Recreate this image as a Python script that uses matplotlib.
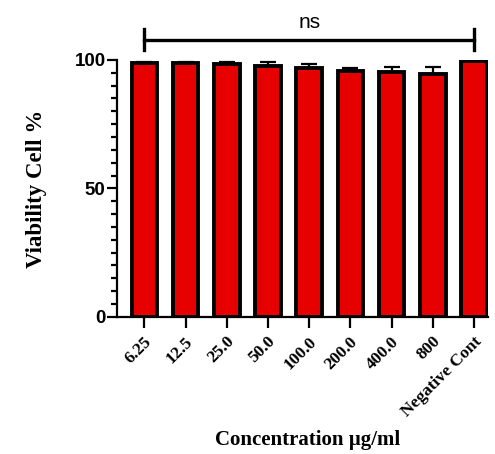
import matplotlib
matplotlib.use("Agg")
import matplotlib.pyplot as plt
import matplotlib.transforms as mtransforms
import numpy as np
from matplotlib.ticker import MultipleLocator

categories = ["6.25", "12.5", "25.0", "50.0", "100.0", "200.0", "400.0", "800", "Negative Cont"]
viability = [98.8, 98.8, 98.5, 97.6, 96.7, 95.6, 95.2, 94.7, 99.6]
errors = [0.3, 0.3, 0.8, 1.5, 1.8, 1.1, 2.0, 2.5, 0.0]

fig = plt.figure(figsize=(4.95, 4.54), dpi=100)
ax = fig.add_axes([0.236, 0.302, 0.75, 0.566])

x = np.arange(len(categories))
ax.bar(x, viability, width=0.62, color="#e60000", edgecolor="black", linewidth=2.8,
       zorder=2)
ax.errorbar(x, viability, yerr=[np.zeros(len(errors)), errors], fmt="none",
            ecolor="black", elinewidth=1.6, capsize=6, capthick=1.6, zorder=1)

ax.set_xlim(-0.667, 8.34)
ax.set_ylim(0, 100)
ax.spines["top"].set_visible(False)
ax.spines["right"].set_visible(False)
for s in ["left", "bottom"]:
    ax.spines[s].set_linewidth(1.6)

ax.yaxis.set_major_locator(MultipleLocator(50))
ax.yaxis.set_minor_locator(MultipleLocator(5))
ax.tick_params(axis="y", which="major", length=7, width=1.6, labelsize=13.5, pad=1)
ax.tick_params(axis="y", which="minor", length=4, width=1.6)
for lab in ax.get_yticklabels():
    lab.set_fontweight("bold")
    lab.set_fontfamily("Liberation Sans")

ax.set_xticks(x)
ax.set_xticklabels(categories, rotation=45, ha="right", va="center",
                   rotation_mode="anchor",
                   fontfamily="Liberation Serif", fontweight="bold", fontsize=12.5)
ax.tick_params(axis="x", length=8, width=1.6, pad=8)
shift = mtransforms.ScaledTranslation(5 / 100, 0, fig.dpi_scale_trans)
for lab in ax.get_xticklabels():
    lab.set_transform(lab.get_transform() + shift)

ax.set_ylabel("Viability Cell %", fontfamily="Liberation Serif", fontweight="bold",
              fontsize=16.5, labelpad=20)
ax.set_xlabel("Concentration µg/ml", fontfamily="Liberation Serif", fontweight="bold",
              fontsize=15, va="center")
ax.xaxis.set_label_coords(0.515, -0.479)

# significance bracket
y_br = 107.7
ax.plot([x[0], x[-1]], [y_br, y_br], color="black", lw=2.4, clip_on=False)
ax.plot([x[0], x[0]], [104, 112], color="black", lw=2.4, clip_on=False)
ax.plot([x[-1], x[-1]], [104, 112], color="black", lw=2.4, clip_on=False)
ax.text((x[0] + x[-1]) / 2, 112.6, "ns", ha="center", va="baseline",
        fontfamily="Liberation Sans", fontsize=15)

fig.savefig("out.png", dpi=100)
